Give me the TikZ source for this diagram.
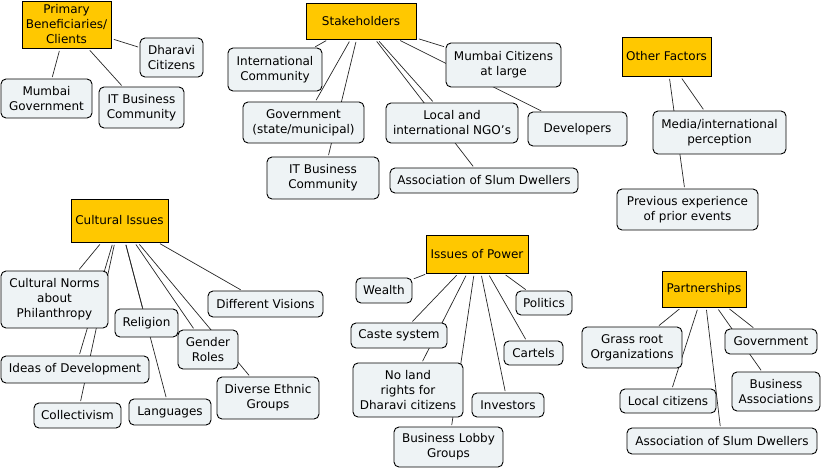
\documentclass[tikz,border=0pt]{standalone}
\usepackage{fontspec}
\setmainfont{DejaVu Sans}
\usetikzlibrary{backgrounds}
\definecolor{gold}{HTML}{FFC800}
\definecolor{pale}{HTML}{EEF3F5}
\newcommand\cnode[7]{\node[#6, minimum width={(#4)-(#2)}, minimum height={(#5)-(#3)}] (#1) at ({((#2)+(#4))/2},{((#3)+(#5))/2}) {#7};}
\begin{document}
\begin{tikzpicture}[x=1pt,y=-1pt, font=\fontsize{12}{15}\selectfont,
 hub/.style={draw=black, fill=gold, line width=0.9pt, inner sep=0pt, align=center},
 leaf/.style={draw=black, fill=pale, rounded corners=5pt, line width=0.9pt, inner sep=0pt, align=center},
 link/.style={draw=black!85, line width=0.7pt, shorten <=2.5pt, shorten >=1.5pt}]
\useasboundingbox (0,0) rectangle (823,472);
% Primary beneficiaries
\cnode{P}{22}{1}{111}{48}{hub}{Primary\\Beneficiaries/\\Clients}
\cnode{Dharavi}{140}{38}{203}{77}{leaf}{Dharavi\\Citizens}
\cnode{MumGov}{1}{79}{92}{118}{leaf}{Mumbai\\Government}
\cnode{ITleft}{99}{87}{184}{128}{leaf}{IT Business\\Community}
% Stakeholders
\cnode{Stake}{306}{3}{416}{39}{hub}{Stakeholders}
\cnode{IntCom}{228}{48}{322}{91}{leaf}{International\\Community}
\cnode{Gov}{243}{102}{364}{143}{leaf}{Government\\(state/municipal)}
\cnode{ITmid}{267}{157}{379}{199}{leaf}{IT Business\\Community}
\cnode{NGO}{386}{103}{518}{143}{leaf}{Local and\\international NGO's}
\cnode{ASDa}{390}{168}{578}{193}{leaf}{Association of Slum Dwellers}
\cnode{MumCit}{446}{43}{561}{87}{leaf}{Mumbai Citizens\\at large}
\cnode{Dev}{528}{112}{627}{146}{leaf}{Developers}
% Other factors
\cnode{Other}{622}{37}{711}{76}{hub}{Other Factors}
\cnode{Media}{653}{111}{786}{154}{leaf}{Media/international\\perception}
\cnode{Prev}{617}{189}{758}{230}{leaf}{Previous experience\\of prior events}
% Cultural issues
\cnode{Cult}{71}{199}{168}{242}{hub}{Cultural Issues}
\cnode{Norms}{1}{271}{108}{328}{leaf}{Cultural Norms\\about\\Philanthropy}
\cnode{Religion}{115}{309}{178}{337}{leaf}{Religion}
\cnode{DiffVis}{208}{291}{323}{317}{leaf}{Different Visions}
\cnode{Gender}{178}{330}{238}{369}{leaf}{Gender\\Roles}
\cnode{Ideas}{1}{356}{149}{383}{leaf}{Ideas of Development}
\cnode{Collect}{34}{403}{121}{428}{leaf}{Collectivism}
\cnode{Lang}{129}{399}{211}{425}{leaf}{Languages}
\cnode{Ethnic}{217}{377}{319}{419}{leaf}{Diverse Ethnic\\Groups}
% Issues of power
\cnode{Power}{426}{235}{528}{273}{hub}{Issues of Power}
\cnode{Wealth}{356}{278}{412}{303}{leaf}{Wealth}
\cnode{Politics}{516}{291}{572}{315}{leaf}{Politics}
\cnode{Caste}{351}{323}{447}{348}{leaf}{Caste system}
\cnode{Cartels}{504}{341}{563}{365}{leaf}{Cartels}
\cnode{NoLand}{353}{363}{463}{417}{leaf}{No land\\rights for\\Dharavi citizens}
\cnode{Investors}{472}{393}{544}{417}{leaf}{Investors}
\cnode{Lobby}{394}{427}{503}{467}{leaf}{Business Lobby\\Groups}
% Partnerships
\cnode{Part}{662}{271}{746}{307}{hub}{Partnerships}
\cnode{Grass}{582}{327}{682}{368}{leaf}{Grass root\\Organizations}
\cnode{GovP}{725}{329}{817}{354}{leaf}{Government}
\cnode{BizAssoc}{732}{372}{820}{411}{leaf}{Business\\Associations}
\cnode{LocalCit}{620}{389}{716}{413}{leaf}{Local citizens}
\cnode{ASDb}{627}{428}{817}{454}{leaf}{Association of Slum Dwellers}
\begin{pgfonlayer}{background}
\foreach \a/\b in {P/Dharavi, P/MumGov, P/ITleft,
  Stake/IntCom, Stake/Gov, Stake/ITmid, Stake/NGO, Stake/ASDa, Stake/MumCit, Stake/Dev,
  Other/Media, Other/Prev,
  Cult/Norms, Cult/Ideas, Cult/Collect, Cult/Religion, Cult/Lang, Cult/Gender, Cult/Ethnic, Cult/DiffVis,
  Power/Wealth, Power/Caste, Power/NoLand, Power/Lobby, Power/Investors, Power/Cartels, Power/Politics,
  Part/Grass, Part/LocalCit, Part/ASDb, Part/GovP, Part/BizAssoc}
  {\draw[link] (\a) -- (\b);}
\end{pgfonlayer}
\end{tikzpicture}
\end{document}
